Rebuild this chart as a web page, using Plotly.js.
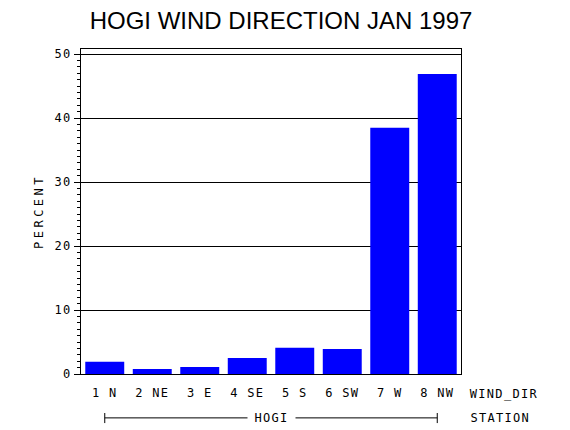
<!DOCTYPE html>
<html>
<head>
<meta charset="utf-8">
<script src="https://cdn.plot.ly/plotly-3.0.1.min.js"></script>
<style>
  body { margin: 0; background: #fff; }
  /* the reference uses a widely spaced stroke font for axis text */
  #chart .main-svg text:not(.gtitle) { letter-spacing: 1.3px; }
  #chart .main-svg text.ytitle { letter-spacing: 3.5px; }
</style>
</head>
<body>
<div id="chart" style="width:570px;height:430px;"></div>
<script>
/***********
  DATA
************/
// wind direction categories (x tick labels)
let windDir = ["1 N", "2 NE", "3 E", "4 SE", "5 S", "6 SW", "7 W", "8 NW"];

// percent of hours per direction
let percent = [1.9, 0.8, 1.1, 2.5, 4.1, 3.9, 38.5, 46.9];

// station group under the categories
let station = "HOGI";

/***********
  CHART
************/
function drawChart() {
  let axisFont = { family: "DejaVu Sans Mono", size: 12, color: "#000" };

  let bars = {
    type: "bar",
    x: windDir,
    y: percent,
    marker: { color: "#0000ff", line: { width: 0 } },
    hoverinfo: "x+y"
  };

  let layout = {
    width: 570,
    height: 430,
    margin: { l: 81, r: 109, t: 49, b: 56 },
    paper_bgcolor: "#fff",
    plot_bgcolor: "#fff",
    showlegend: false,
    bargap: 0.18,
    title: {
      text: "HOGI WIND DIRECTION JAN 1997",
      font: { family: "Liberation Sans", size: 24, color: "#000" },
      x: 0.493, xanchor: "center",
      y: 0.953, yanchor: "middle"
    },
    xaxis: {
      type: "category",
      range: [-0.5, windDir.length - 0.5],
      showline: true, mirror: true, linecolor: "#000", linewidth: 1,
      showgrid: false, zeroline: false,
      ticks: "", ticklabelstandoff: 8,
      tickfont: axisFont,
      fixedrange: true
    },
    yaxis: {
      range: [0, 50.8],
      tickvals: [0, 10, 20, 30, 40, 50],
      showline: true, mirror: true, linecolor: "#000", linewidth: 1,
      showgrid: true, gridcolor: "#000", gridwidth: 1,
      zeroline: false,
      ticks: "outside", ticklen: 6, tickcolor: "#000", tickwidth: 1,
      minor: { dtick: 1, ticks: "outside", ticklen: 3, tickcolor: "#000", showgrid: false },
      tickfont: axisFont,
      title: { text: "PERCENT", font: axisFont, standoff: 10 },
      automargin: false,
      fixedrange: true
    },
    shapes: [
      // station bracket from first to last category
      { type: "line", xref: "x", yref: "paper", x0: 0, x1: windDir.length - 1, y0: -0.135, y1: -0.135,
        line: { color: "#000", width: 1 } },
      { type: "line", xref: "x", yref: "paper", x0: 0, x1: 0, y0: -0.12, y1: -0.151,
        line: { color: "#000", width: 1 } },
      { type: "line", xref: "x", yref: "paper", x0: windDir.length - 1, x1: windDir.length - 1, y0: -0.12, y1: -0.151,
        line: { color: "#000", width: 1 } }
    ],
    annotations: [
      { text: station, xref: "x", yref: "paper", x: (windDir.length - 1) / 2, y: -0.135,
        xanchor: "center", yanchor: "middle", showarrow: false,
        bgcolor: "#fff", borderpad: 9, font: axisFont },
      { text: "WIND_DIR", xref: "paper", yref: "paper", x: 1.0316, y: -0.0615,
        xanchor: "left", yanchor: "middle", showarrow: false, font: axisFont },
      { text: "STATION", xref: "paper", yref: "paper", x: 1.0316, y: -0.135,
        xanchor: "left", yanchor: "middle", showarrow: false, font: axisFont }
    ]
  };

  Plotly.newPlot("chart", [bars], layout, { displayModeBar: false, staticPlot: true });
}

drawChart();
</script>
</body>
</html>
